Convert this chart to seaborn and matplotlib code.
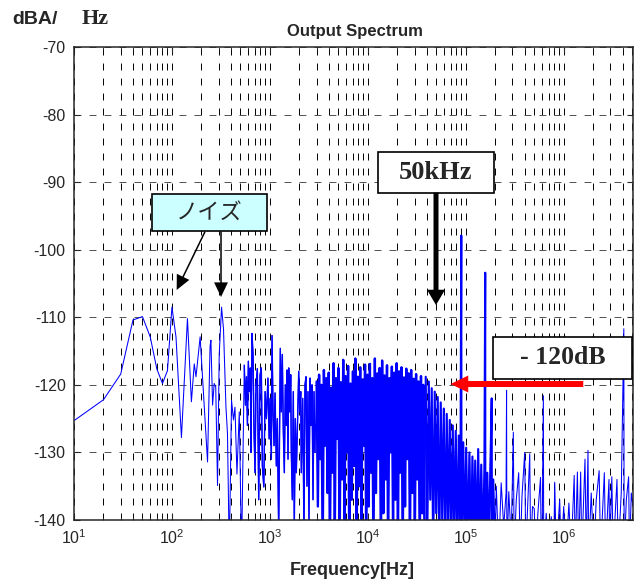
import pandas as pd
import matplotlib as mtl
import matplotlib.pyplot as plt
import seaborn as sns
import numpy as np
from matplotlib.patches import Rectangle, FancyArrowPatch
from matplotlib.ticker import LogLocator

# low frequency part, single bins
low_f = [10, 20, 30, 40, 50, 60, 70, 80, 90, 100, 110, 125, 144, 158, 169, 176, 194,
         231, 245, 250, 260, 270, 280, 292, 304, 321, 336, 356, 369, 385, 406, 425,
         440, 461, 487, 514]
low_db = [-125.3, -122.2, -118.4, -110.4, -109.9, -112.9, -117.6, -119.8, -117.9,
          -108.5, -112.9, -127.8, -110.2, -122.5, -116.9, -118.8, -112.9, -131.4,
          -114.3, -113.4, -123.0, -119.8, -120.3, -134.9, -115.5, -108.5, -111.7,
          -123.3, -127.2, -145, -122.3, -125.2, -123.3, -133.2, -124.0, -145]

# 0.5 - 3 kHz
mid_f = [548, 563, 577, 590, 603, 617, 632, 642, 657, 673, 689, 705, 722, 745, 769,
         794, 818, 838, 867, 894, 922, 955, 983, 1005, 1035, 1052, 1077, 1103, 1129,
         1164, 1192, 1230, 1278, 1309, 1340, 1372, 1405, 1438, 1473, 1497, 1532, 1557,
         1594, 1632, 1655, 1695, 1735, 1776, 1819, 1862, 1906, 1970, 2016, 2065, 2093,
         2163, 2230, 2283, 2337, 2393, 2450, 2508, 2568, 2629, 2692, 2756, 2822, 2889]
mid_db = [-117.1, -123, -118.8, -126, -116.5, -121, -117.5, -130, -112.4, -115.5, -127,
          -133, -120, -117.6, -137, -118.5, -117.5, -132, -135.1, -121, -125, -119, -128,
          -122, -131, -112.7, -124, -129, -121.2, -132, -125, -142, -114.6, -124, -115.5,
          -127, -133, -120, -126, -117.8, -131, -117.5, -124, -118.5, -130, -137, -121,
          -141, -125, -133, -127, -118, -124, -121, -133, -122, -142, -120, -118.8, -135,
          -121, -140, -119, -126, -120, -137, -121, -130]

# 3 - 38 kHz, dense noise band
dense_f = [3000, 3090, 3180, 3270, 3360, 3460, 3560, 3660, 3770, 3880, 3990, 4100, 4220,
           4340, 4470, 4600, 4730, 4870, 5010, 5150, 5300, 5460, 5610, 5780, 5940, 6110,
           6290, 6470, 6660, 6850, 7050, 7250, 7460, 7680, 7900, 8130, 8360, 8600, 8850,
           9110, 9370, 9640, 9920, 10200, 10500, 10800, 11100, 11400, 11800, 12100,
           12500, 12800, 13200, 13600, 14000, 14400, 14800, 15200, 15700, 16100, 16600,
           17100, 17600, 18100, 18600, 19100, 19700, 20300, 20800, 21400, 22100, 22700,
           23400, 24000, 24700, 25400, 26200, 26900, 27700, 28500, 29400, 30200, 31100,
           32000, 32900, 33900, 34900, 35900, 36900, 38000]
dense_db = [-119.5, -138, -118.5, -131, -120, -145, -117.8, -129, -119, -136, -118.2, -145,
            -120.4, -133, -116.8, -142, -119, -128, -117.5, -145, -119.6, -134, -116.3,
            -140, -118.7, -130, -117.2, -145, -119.8, -137, -118, -132, -116.1, -145,
            -118.8, -135, -117.4, -141, -119.2, -129, -117, -145, -118.5, -138, -116.9,
            -133, -119, -145, -116.1, -136, -118.3, -131, -117.5, -145, -116.4, -139,
            -118.6, -134, -117.1, -145, -119, -130, -117.3, -142, -118.2, -137, -116.8,
            -145, -118, -133, -117.4, -145, -118.9, -138, -117.6, -131, -118.3, -145,
            -117.8, -136, -119.1, -143, -118.4, -134, -119.5, -145, -118.7, -139, -120,
            -145]

# 38 - 200 kHz roll-off with the tones
roll_f = [39000, 40400, 41900, 43400, 44900, 46500, 48200, 49900, 51700, 53600, 55500,
          57500, 59600, 61700, 63900, 66200, 68600, 71100, 73600, 76300, 79000, 81900,
          84800, 87900, 90000, 90500, 94300, 97700, 101000, 105000, 109000, 113000,
          117000, 121000, 125000, 130000, 134000, 139000, 144000, 149000, 155000,
          158000, 158500, 166000, 172000, 178000, 184000, 184500, 191000, 198000]
roll_db = [-118.8, -144, -119.5, -137, -120.5, -145, -121, -139, -121.8, -145, -122.6,
           -140, -123.5, -145, -124.3, -141, -125.2, -145, -126, -142, -126.8, -145,
           -127.5, -143, -97.9, -145, -128.5, -145, -129.3, -144, -130, -145, -130.6,
           -143, -131.2, -145, -129.5, -144, -131.8, -145, -132.5, -103.4, -145, -133,
           -144, -132.8, -122, -145, -134, -145]

# 200 kHz - 5 MHz floor
high_f = [205000, 217000, 230000, 244000, 258000, 261000, 263000, 275000, 291000, 306000,
          312000, 328000, 347000, 360000, 375000, 400000, 410000, 430000, 450000, 460000,
          480000, 500000, 520000, 545000, 580000, 590000, 605000, 620000, 625000, 663000,
          703000, 746000, 791000, 810000, 839000, 890000, 910000, 944000, 1000000,
          1060000, 1130000, 1190000, 1280000, 1310000, 1380000, 1420000, 1490000,
          1530000, 1650000, 1700000, 1770000, 1800000, 1910000, 2030000, 2150000,
          2300000, 2380000, 2600000, 2680000, 2900000, 2950000, 3100000, 3200000,
          3500000, 3600000, 3870000, 4110000, 4140000, 4360000, 4600000, 4700000,
          4900000, 5100000]
high_db = [-135, -145, -134.5, -141, -136, -120.8, -145, -135.8, -143, -127, -145, -137,
           -133, -145, -136.5, -130, -145, -137.5, -130.2, -145, -138, -138.3, -145, -139,
           -133.7, -145, -139.5, -121.6, -145, -139, -145, -139.5, -145, -134.4, -145,
           -139, -137, -145, -138, -145, -137.5, -145, -133.4, -145, -132.9, -145, -132.9,
           -145, -131, -145, -129.7, -145, -136, -145, -137, -132.7, -145, -133, -145,
           -134, -145, -133.6, -145, -134, -145, -136, -111.7, -145, -137, -133.6, -145,
           -136, -138]

spec = pd.DataFrame({
    "freq": low_f + mid_f + dense_f + roll_f + high_f,
    "level": low_db + mid_db + dense_db + roll_db + high_db,
    "part": (["low"] * len(low_f) + ["mid"] * len(mid_f) + ["dense"] * len(dense_f)
             + ["roll"] * len(roll_f) + ["high"] * len(high_f)),
})

sns.set_style("ticks")
plt.rcParams["font.family"] = ["Liberation Sans", "DejaVu Sans"]
plt.rcParams["mathtext.fontset"] = "custom"
plt.rcParams["mathtext.rm"] = "Liberation Sans"
plt.rcParams["axes.unicode_minus"] = False
plt.rcParams["lines.scale_dashes"] = False

fig = plt.figure(figsize=(6.4, 5.86), dpi=100)
ax = fig.add_axes([74 / 640, 66 / 586, 559 / 640, 473 / 586])

blue = "#0000ff"
# whole trace, thin
sns.lineplot(data=spec, x="freq", y="level", sort=False, estimator=None,
             color=blue, lw=0.75, ax=ax, zorder=3)
# the crowded bins get a heavier stroke so they read as a solid band
for part, w in [("mid", 1.0), ("dense", 1.7), ("roll", 1.5)]:
    sub = spec[spec["part"] == part]
    sns.lineplot(data=sub, x="freq", y="level", sort=False, estimator=None,
                 color=blue, lw=w, ax=ax, zorder=3)

ax.set_xscale("log")
ax.set_xlim(10, 5.1e6)
ax.set_ylim(-140, -70)
ax.set_yticks(np.arange(-140, -69, 10))
ax.xaxis.set_major_locator(LogLocator(base=10, numticks=12))
ax.xaxis.set_minor_locator(LogLocator(base=10, subs=np.arange(2, 10), numticks=12))
ax.set_xlabel("")
ax.set_ylabel("")

ax.grid(which="both", axis="x", color="k", ls=(0, (5, 5.8)), lw=0.7)
ax.grid(which="major", axis="y", color="#505050", ls=(0, (5, 5.8)), lw=0.7)
ax.tick_params(which="both", direction="in", top=True, right=True, labelsize=11.5, pad=6)
ax.tick_params(which="major", length=4)
ax.tick_params(which="minor", length=2)
for s in ax.spines.values():
    s.set_linewidth(1.1)
    s.set_zorder(4)

fig.text(355 / 640, 1 - 36 / 586, "Output Spectrum", ha="center", va="baseline",
         fontsize=12, fontweight="bold")
fig.text(352 / 640, 1 - 575 / 586, "Frequency[Hz]", ha="center", va="baseline",
         fontsize=13, fontweight="bold")
fig.text(12 / 640, 1 - 24.5 / 586, "dBA/", ha="left", va="baseline",
         fontsize=14, fontweight="bold")
fig.text(82 / 640, 1 - 24.5 / 586, "Hz", ha="left", va="baseline",
         fontsize=16, fontweight="bold", family="Liberation Serif")

# noise label
ax.add_patch(Rectangle((0.1395, 0.611), 0.2058, 0.078, transform=ax.transAxes,
                       facecolor="#ccffff", edgecolor="k", lw=1.2, zorder=6))
ax.text(0.2424, 0.650, "ノイズ", transform=ax.transAxes, ha="center", va="center",
        fontsize=16, family=["Noto Sans CJK JP", "DejaVu Sans"], zorder=7)
for start, tip in [((0.2343, 0.6095), (0.1837, 0.4863)), ((0.263, 0.6095), (0.263, 0.4715))]:
    ax.add_patch(FancyArrowPatch(start, tip, transform=ax.transAxes,
                                 arrowstyle="simple,head_length=10.5,head_width=10,tail_width=1.1",
                                 mutation_scale=1, color="k", lw=0, shrinkA=0, shrinkB=0,
                                 zorder=7))

# 50 kHz label
ax.add_patch(Rectangle((0.5444, 0.692), 0.2069, 0.0854, transform=ax.transAxes,
                       facecolor="white", edgecolor="k", lw=1.2, zorder=6))
ax.text(0.6476, 0.7347, "50kHz", transform=ax.transAxes, ha="center", va="center",
        fontsize=19, fontweight="bold", family="Liberation Serif", zorder=7)
ax.add_patch(FancyArrowPatch((0.6476, 0.692), (0.6476, 0.4545), transform=ax.transAxes,
                             arrowstyle="simple,head_length=11,head_width=13,tail_width=3.6",
                             mutation_scale=1, color="k", lw=0, shrinkA=0, shrinkB=0,
                             zorder=7))

# -120 dB label
ax.add_patch(Rectangle((0.750, 0.298), 0.248, 0.088, transform=ax.transAxes,
                       facecolor="white", edgecolor="k", lw=1.2, zorder=6))
ax.text(0.8739, 0.3425, "- 120dB", transform=ax.transAxes, ha="center", va="center",
        fontsize=18.5, fontweight="bold", family="Liberation Serif", zorder=7)
ax.add_patch(FancyArrowPatch((0.911, 0.2875), (0.6737, 0.2875), transform=ax.transAxes,
                             arrowstyle="simple,head_length=12.7,head_width=12.2,tail_width=4.3",
                             mutation_scale=1, color="#ff0000", lw=0, shrinkA=0, shrinkB=0,
                             zorder=7))

fig.savefig("out.png", dpi=100)
